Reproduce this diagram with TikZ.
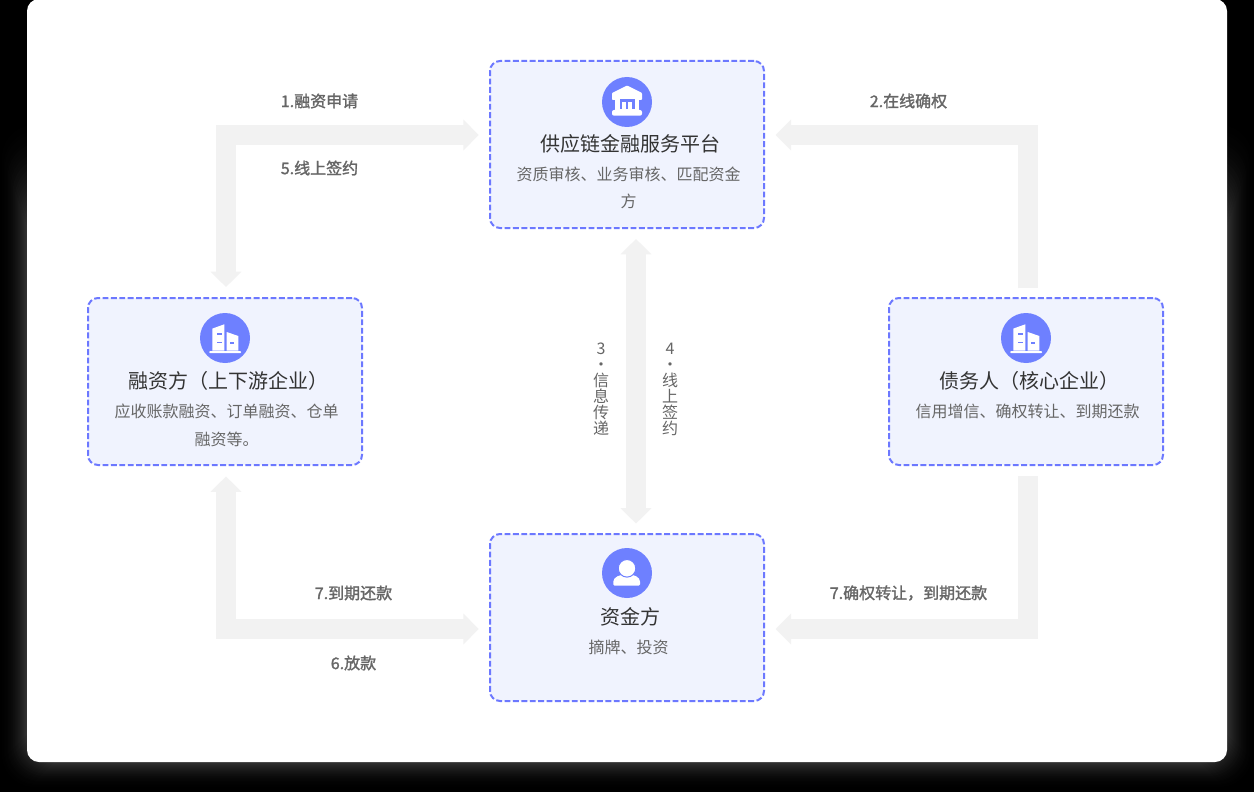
\documentclass[tikz,border=0pt]{standalone}
\usepackage{fontspec}
\usepackage{tikz}
\usetikzlibrary{arrows.meta}
\setmainfont{Noto Sans CJK SC}
\newfontfamily\labelfont[FakeBold=1.6]{Noto Sans CJK SC}
\definecolor{cardfill}{HTML}{F0F3FE}
\definecolor{cardline}{HTML}{6C78FF}
\definecolor{iconblue}{HTML}{6E80FF}
\definecolor{flowgray}{HTML}{F2F2F2}
\definecolor{bodygray}{HTML}{666666}
\definecolor{titlegray}{HTML}{333333}
\tikzset{
  card/.style={draw=cardline,fill=cardfill,line width=1.5pt,dash pattern=on 4.4pt off 1.9pt,rounded corners=7.5pt,minimum width=205.5pt,minimum height=125.25pt,inner sep=0pt,outer sep=0pt},
  badge/.style={circle,fill=iconblue,minimum size=37.5pt,inner sep=0pt,outer sep=0pt},
  titletext/.style={inner sep=0pt,text=titlegray,font=\fontsize{15}{18}\selectfont},
  desctext/.style={inner sep=0pt,text=bodygray,align=center,font=\fontsize{12}{20.5}\selectfont},
  flowtext/.style={inner sep=0pt,text=bodygray,font=\labelfont\fontsize{12}{14}\selectfont},
  columntext/.style={inner sep=0pt,text=bodygray,align=center,font=\fontsize{12}{12}\selectfont},
  flowline/.style={draw=flowgray,line width=15pt},
  flowboth/.style={flowline,{Triangle[width=22.5pt,length=11.5pt]}-{Triangle[width=22.5pt,length=11.5pt]}},
  flowend/.style={flowline,-{Triangle[width=22.5pt,length=11.5pt]}},
  buildicon/.pic={
    \fill[white] (-12.7,-9.4) -- (-0.7,-13.7) -- (-0.7,12.6) -- (-12.7,12.6) -- cycle;
    \fill[white] (1.7,-6) -- (13.3,-2) -- (13.3,12.6) -- (1.7,12.6) -- cycle;
    \fill[white,rounded corners=0.5pt] (-15.7,13.2) rectangle (16,15);
    \fill[iconblue] (-8.3,-5) rectangle (-3.3,-3.5);
    \fill[iconblue] (-8.3,3.5) rectangle (-3.3,5);
    \fill[iconblue] (5,4) rectangle (9,5.5);
  }
}

\begin{document}
\begin{tikzpicture}[x=0.75pt,y=0.75pt,yscale=-1,xscale=1]
\path[use as bounding box,clip] (0,0) rectangle (1254,792);
\fill[black] (0,0) rectangle (1254,792);

% Shadow
\foreach \d in {28,27,...,1}{
  \pgfmathsetmacro{\lev}{21*(1-\d/28)^2}
  \pgfmathsetmacro{\topy}{200-3*\d}
  \fill[white!\lev!black,rounded corners=24pt] (27-\d,\topy) rectangle (1227+\d,762+\d);
}
% Sheet
\fill[white,rounded corners=9pt] (27,-1) rectangle (1227,762);

% Cards
\node (pingtai) at (627,144.5) [card] {};
\node (rongzi) at (225,381.5) [card] {};
\node (zhaiwu) at (1026,381.5) [card] {};
\node (zijin) at (627,617.5) [card] {};

% Connection
\draw [flowboth] ([shift={(1,-11)}]rongzi.north) |- ([shift={(-11.3,-9.5)}]pingtai.west);
% Connection
\draw [flowend] ([shift={(2,-10)}]zhaiwu.north) |- ([shift={(11.7,-9.5)}]pingtai.east);
% Connection
\draw [flowboth] ([shift={(1,11.5)}]rongzi.south) |- ([shift={(-11.3,11.5)}]zijin.west);
% Connection
\draw [flowend] ([shift={(2,11)}]zhaiwu.south) |- ([shift={(11.7,11.5)}]zijin.east);
% Connection
\draw [flowboth] ([shift={(9,11)}]pingtai.south) -- ([shift={(9,-10.5)}]zijin.north);

% Icons
\node (pingtaiBadge) at (627,102) [badge] {};
\node (rongziBadge) at (225,338) [badge] {};
\node (zhaiwuBadge) at (1026,338) [badge] {};
\node (zijinBadge) at (627,573) [badge] {};
% bank
\fill[white,rounded corners=0.6pt] (612,93) -- (627,85.5) -- (642,93) -- (642,100) -- (612,100) -- cycle;
\fill[white] (615,100) rectangle (639,110);
\fill[iconblue] (619.5,99.5) rectangle (634.5,101.7);
\fill[iconblue] (619.5,99.5) rectangle (622.3,109);
\fill[iconblue] (625.7,99.5) rectangle (628.3,109);
\fill[iconblue] (631.7,99.5) rectangle (634.5,109);
\fill[white,rounded corners=1.5pt] (612,110) rectangle (642,115.7);
% buildings
\pic [transform shape] at (225,338) {buildicon};
\pic [transform shape] at (1026,338) {buildicon};
% person
\fill[white,rounded corners=1pt] (613.3,585.7) -- (613.3,583) .. controls (613.3,577) and (620,574.5) .. (627,574.5) .. controls (634,574.5) and (640,577) .. (640,583) -- (640,585.7) -- cycle;
\draw[fill=white,draw=iconblue,line width=0.75pt] (627,568.3) circle (8.8);

% Text Node
\node (pingtaiTitle) at (630,144) [titletext] {供应链金融服务平台};
\node (pingtaiDesc) at (628.5,188) [desctext] {资质审核、业务审核、匹配资金\\方};
% Text Node
\node (rongziTitle) at (228,381) [titletext] {融资方（上下游企业）};
\node (rongziDesc) at (226.5,425.5) [desctext] {应收账款融资、订单融资、仓单\\融资等。};
% Text Node
\node (zhaiwuTitle) at (1029,381) [titletext] {债务人（核心企业）};
\node (zhaiwuDesc) at (1027.5,411.5) [desctext] {信用增信、确权转让、到期还款};
% Text Node
\node (zijinTitle) at (630,617) [titletext] {资金方};
\node (zijinDesc) at (628.5,647.5) [desctext] {摘牌、投资};

% Text Node
\node (applyText) at (319.5,101) [flowtext] {1.融资申请};
\node (signText) at (319.5,168) [flowtext] {5.线上签约};
\node (confirmText) at (908.5,101) [flowtext] {2.在线确权};
\node (repayText) at (353.5,593) [flowtext] {7.到期还款};
\node (lendText) at (353.5,663) [flowtext] {6.放款};
\node (transferText) at (908.5,593) [flowtext] {7.确权转让，到期还款};
\node (infoText) at (601,389) [columntext] {3\\·\\信\\息\\传\\递};
\node (onlineText) at (670,389) [columntext] {4\\·\\线\\上\\签\\约};

\end{tikzpicture}
\end{document}
